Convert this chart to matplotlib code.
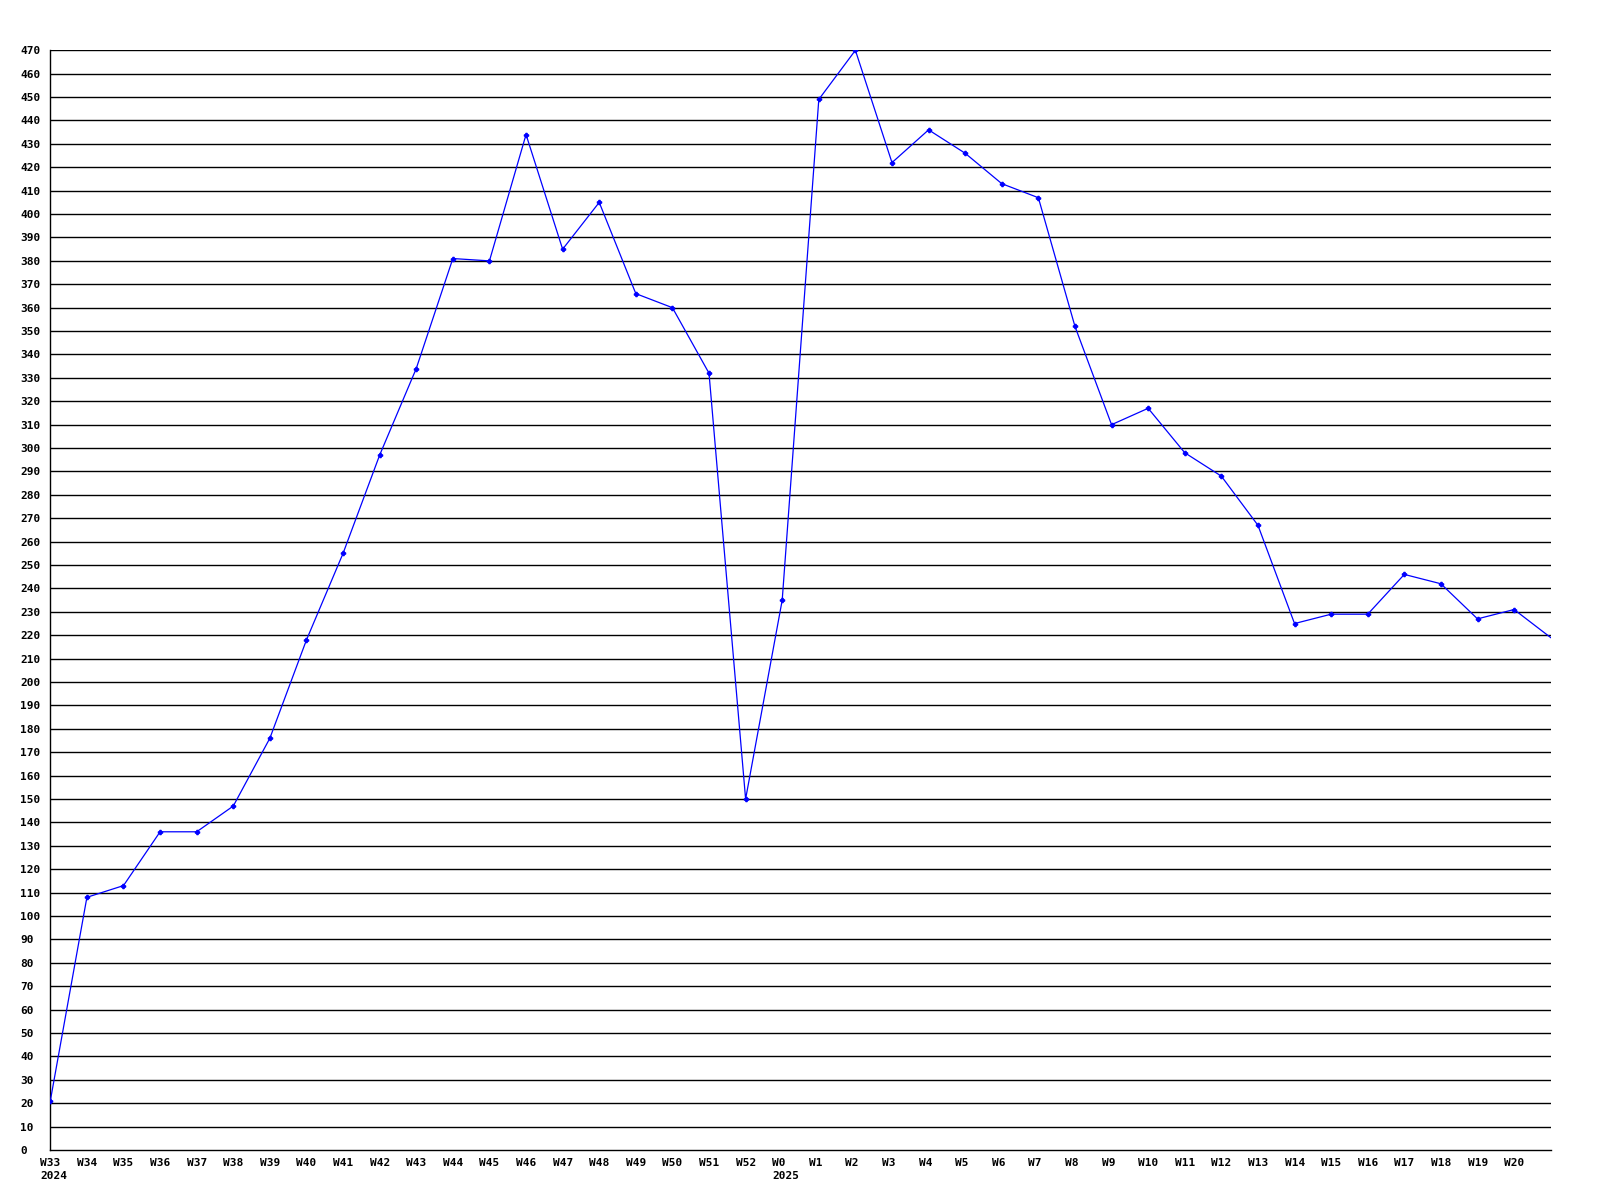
import matplotlib
matplotlib.use("Agg")
import matplotlib.pyplot as plt
import matplotlib.transforms as mtransforms

# weekly values, W33 2024 .. W21 2025 (last point runs off the right edge)
weeks = ["W33", "W34", "W35", "W36", "W37", "W38", "W39", "W40", "W41", "W42",
         "W43", "W44", "W45", "W46", "W47", "W48", "W49", "W50", "W51", "W52",
         "W0", "W1", "W2", "W3", "W4", "W5", "W6", "W7", "W8", "W9",
         "W10", "W11", "W12", "W13", "W14", "W15", "W16", "W17", "W18", "W19",
         "W20", "W21"]
values = [21, 108, 113, 136, 136, 147, 176, 218, 255, 297,
          334, 381, 380, 434, 385, 405, 366, 360, 332, 150,
          235, 449, 470, 422, 436, 426, 413, 407, 352, 310,
          317, 298, 288, 267, 225, 229, 229, 246, 242, 227,
          231, 219]
year_labels = {"W33": "2024", "W0": "2025"}
y_ticks = list(range(0, 471, 10))

plt.rcParams['font.family'] = ['DejaVu Sans Mono']
plt.rcParams['font.weight'] = 'bold'

fig = plt.figure(figsize=(16, 12), dpi=100)
ax = fig.add_axes([50.3 / 1600, 1 - 1150 / 1200, 1500.4 / 1600, 1099.7 / 1200])

# horizontal grid lines
for v in y_ticks[1:]:
    ax.axhline(v, color='black', linewidth=1.0, zorder=1)

x = list(range(len(weeks)))
ax.plot(x, values, color='#0000ff', linewidth=0.9, marker='P', markersize=3,
        markevery=list(range(len(weeks) - 1)), zorder=3)

ax.set_xlim(0, len(weeks) - 1)
ax.set_ylim(0, 470)

for s in ['top', 'right']:
    ax.spines[s].set_visible(False)
for s in ['left', 'bottom']:
    ax.spines[s].set_linewidth(1.0)
    ax.spines[s].set_color('black')

# y ticks, left aligned
ax.set_yticks(y_ticks)
ax.set_yticklabels([str(v) for v in y_ticks], fontsize=8, fontweight='bold')
ax.tick_params(axis='y', length=0, pad=21.6)
for lab in ax.get_yticklabels():
    lab.set_horizontalalignment('left')

# x ticks with year under first week of each year
shown = weeks[:-1]
ax.set_xticks(range(len(shown)))
ax.set_xticklabels([w + ("\n" + year_labels[w] if w in year_labels else "") for w in shown],
                   fontsize=8, fontweight='bold', linespacing=1.35)
ax.tick_params(axis='x', length=0, pad=5.8)
shift = mtransforms.ScaledTranslation(-10 / 100, 0, fig.dpi_scale_trans)
for lab in ax.get_xticklabels():
    lab.set_horizontalalignment('left')
    lab.set_multialignment('left')
    lab.set_transform(lab.get_transform() + shift)

fig.savefig("out.png", dpi=100)
